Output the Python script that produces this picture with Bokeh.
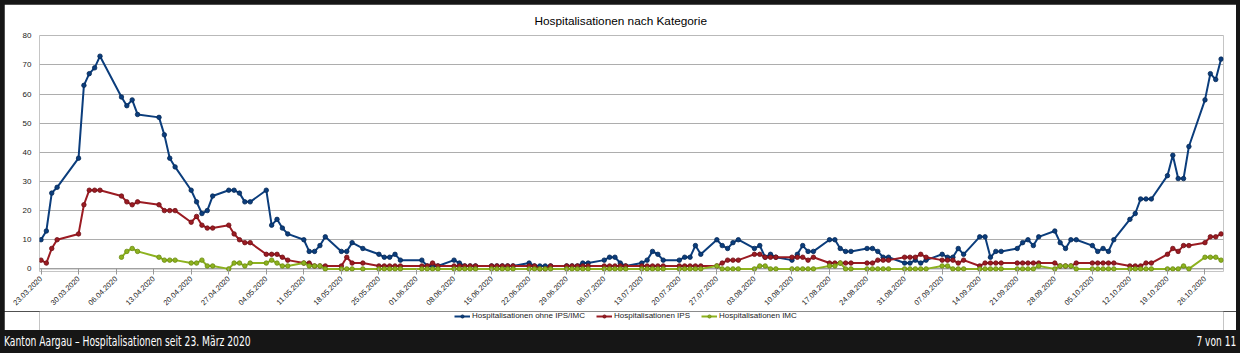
import numpy as np
import pandas as pd
from bokeh.plotting import figure
from bokeh.models import (Range1d, FixedTicker, Legend, LegendItem, Div, Span,
                          DatetimeTickFormatter)
from bokeh.layouts import column
from bokeh.embed import file_html
from bokeh.resources import INLINE

# ---------------- data ----------------
missing_days = ["2020-03-27", "2020-04-06", "2020-04-13", "2020-05-21", "2020-06-01"]
dates = pd.bdate_range("2020-03-23", "2020-10-29").difference(pd.to_datetime(missing_days))

ohne_ips_imc = [
    10, 13, 26, 28,
    38, 63, 67, 69, 73,
    59, 56, 58, 53,
    52, 46, 38, 35,
    27, 23, 19, 20, 25,
    27, 27, 26, 23, 23,
    27, 15, 17, 14, 12,
    10, 6, 6, 8, 11,
    6, 6, 9, 7,
    5, 4, 4, 5, 3,
    3, 1, 1, 1,
    3, 2, 1, 1, 1,
    1, 1, 1, 1, 1,
    2, 1, 1, 1, 1,
    1, 1, 1, 2, 2,
    3, 4, 4, 2, 1,
    2, 3, 6, 5, 3,
    3, 4, 4, 8, 5,
    10, 8, 7, 9, 10,
    7, 8, 4, 5, 4,
    3, 5, 8, 6, 6,
    10, 10, 7, 6, 6,
    7, 7, 6, 4, 4,
    2, 2, 3, 2, 3,
    5, 4, 4, 7, 5,
    11, 11, 4, 6, 6,
    7, 9, 10, 8, 11,
    13, 9, 7, 10, 10,
    8, 6, 7, 6, 10,
    17, 19, 24, 24, 24,
    32, 39, 31, 31, 42,
    58, 67, 65, 72,
]

ips = [
    3, 2, 7, 10,
    12, 22, 27, 27, 27,
    25, 23, 22, 23,
    22, 20, 20, 20,
    16, 18, 15, 14, 14,
    15, 12, 10, 9, 9,
    5, 5, 5, 4, 3,
    2, 2, 1, 1, 1,
    1, 4, 2, 2,
    1, 1, 1, 1, 1,
    1, 1, 2, 1,
    1, 1, 1, 1, 1,
    1, 1, 1, 1, 1,
    1, 1, 0, 0, 1,
    1, 1, 1, 1, 1,
    1, 1, 1, 1, 1,
    1, 1, 1, 1, 1,
    1, 1, 1, 1, 1,
    1, 2, 3, 3, 3,
    5, 5, 4, 4, 4,
    4, 4, 4, 3, 4,
    2, 2, 2, 2, 2,
    2, 2, 3, 3, 3,
    4, 4, 4, 5, 4,
    3, 3, 3, 2, 3,
    1, 2, 2, 2, 2,
    2, 2, 2, 2, 2,
    2, 1, 1, 1, 2,
    2, 2, 2, 2, 2,
    1, 1, 1, 2, 2,
    5, 7, 6, 8, 8,
    9, 11, 11, 12,
]

imc = [np.nan] * 9 + [
    4, 6, 7, 6,
    4, 3, 3, 3,
    2, 2, 3, 1, 1,
    0, 2, 2, 1, 2,
    2, 3, 2, 1, 1,
    2, 1, 1, 1, 0,
    0, 0, 0, 0,
    0, 0, 0, 0, 0,
    0, 0, 0, 0,
    0, 0, 0, 0, 0,
    0, 0, 0, 0, 0,
    0, 0, 0, 0, 0,
    0, 0, 0, 0, 0,
    0, 0, 0, 0, 0,
    0, 0, 0, 0, 0,
    0, 0, 0, 0, 0,
    1, 0, 0, 0, 0,
    0, 1, 1, 0, 0,
    0, 0, 0, 0, 0,
    1, 1, 2, 0, 0,
    0, 0, 0, 0, 0,
    0, 0, 0, 0, 0,
    1, 1, 0, 0, 0,
    0, 0, 0, 0, 0,
    0, 0, 0, 0, 1,
    0, 1, 1, 1, 0,
    0, 0, 0, 0, 0,
    0, 0, 0, 0, 0,
    0, 0, 0, 1, 0,
    4, 4, 4, 3,
]

tick_dates = pd.date_range("2020-03-23", "2020-10-26", freq="7D")
y_ticks = [0, 10, 20, 30, 40, 50, 60, 70, 80]

series_names = ["Hospitalisationen ohne IPS/IMC", "Hospitalisationen IPS", "Hospitalisationen IMC"]
series_colors = ["#0b3d7c", "#9b1b22", "#8db21f"]
edge_colors = ["#062a57", "#6e1016", "#6a8a10"]

title_text = "Hospitalisationen nach Kategorie"
caption_left = "Kanton Aargau \u2013 Hospitalisationen seit 23. M\u00e4rz 2020"
caption_right = "7 von 11"

# ---------------- main figure ----------------
FONT = "Liberation Sans"
day_ms = 86400000.0
x0 = dates[0].value / 1e6 - 0.28 * day_ms
x1 = dates[-1].value / 1e6 + 0.45 * day_ms

p = figure(width=1232, height=307, x_axis_type="datetime",
           x_range=Range1d(x0, x1), y_range=Range1d(-0.9, 80.1),
           output_backend="svg", toolbar_location=None,
           min_border_left=35, min_border_right=13, min_border_top=31,
           min_border_bottom=40)
p.margin = (4, 4, 0, 4)
p.background_fill_color = "white"
p.border_fill_color = "white"
p.outline_line_color = None

p.title.text = title_text
p.title.align = "left"
p.title.offset = 495
p.title.standoff = 15
p.title.text_font = FONT
p.title.text_font_size = "11.8px"
p.title.text_font_style = "normal"
p.title.text_color = "#000000"

p.xgrid.visible = False
p.ygrid.grid_line_color = "#adadad"
p.ygrid.grid_line_width = 1
p.yaxis.ticker = FixedTicker(ticks=y_ticks)
p.yaxis.axis_line_color = None
p.yaxis.major_tick_line_color = None
p.yaxis.minor_tick_line_color = None
p.yaxis.major_label_text_font = FONT
p.yaxis.major_label_text_font_size = "8px"
p.yaxis.major_label_text_color = "#222222"
p.yaxis.major_label_standoff = 2

fmt = "%d.%m.%Y"
p.xaxis.ticker = FixedTicker(ticks=[d.value / 1e6 for d in tick_dates])
p.xaxis.formatter = DatetimeTickFormatter(days=fmt, months=fmt, years=fmt, hours=fmt,
                                          hourmin=fmt, minutes=fmt, minsec=fmt,
                                          seconds=fmt, milliseconds=fmt,
                                          microseconds=fmt)
p.xaxis.axis_line_color = None
p.xaxis.major_tick_line_color = "#999999"
p.xaxis.major_tick_in = 3
p.xaxis.major_tick_out = 3
p.xaxis.minor_tick_line_color = None
p.xaxis.major_label_orientation = np.pi / 4
p.xaxis.major_label_text_font = FONT
p.xaxis.major_label_text_font_size = "7.5px"
p.xaxis.major_label_text_color = "#222222"
p.xaxis.major_label_standoff = 3

p.add_layout(Span(location=0, dimension="width", line_color="#999999", line_width=1,
                  level="underlay"))

series_values = [ohne_ips_imc, ips, imc]
for vals, col, edge in zip(series_values, series_colors, edge_colors):
    vals = np.array(vals, dtype=float)
    p.line(dates, vals, line_color=col, line_width=2)
    p.scatter(dates, vals, size=4.5, fill_color=col, line_color=edge, line_width=0.8)

# ---------------- legend strip (same series, range chosen so only the legend shows) ----------------
lg = figure(width=1232, height=19, x_range=Range1d(x0, x1), y_range=Range1d(-20, -10),
            output_backend="svg", toolbar_location=None, min_border=0,
            x_axis_location=None, y_axis_location=None)
lg.margin = (0, 4, 0, 4)
lg.grid.visible = False
lg.outline_line_color = None
lg.background_fill_color = "white"
lg.border_fill_color = "white"

items = []
for name, vals, col, edge in zip(series_names, series_values, series_colors, edge_colors):
    vals = np.array(vals, dtype=float)
    lr = lg.line(dates, vals, line_color=col, line_width=2)
    sr = lg.scatter(dates, vals, size=4.5, fill_color=col, line_color=edge, line_width=0.8)
    items.append(LegendItem(label=name, renderers=[lr, sr], index=20))

legend = Legend(items=items, orientation="horizontal", location=(415, 10),
                label_text_font=FONT, label_text_font_size="8px", label_text_color="#222222",
                glyph_width=16, glyph_height=8, label_standoff=2, spacing=11,
                padding=0, margin=0, border_line_color=None, background_fill_alpha=0,
                label_height=8)
lg.add_layout(legend)

# ---------------- caption bar ----------------
caption = Div(
    text=('<div style="position:relative;width:1240px;height:23px;color:#ffffff;'
          "font-family:'Liberation Sans Narrow','DejaVu Sans Condensed','Roboto',sans-serif;"
          'font-size:14px;line-height:23px;">'
          '<span style="position:absolute;left:4px;top:0;white-space:nowrap;'
          f'transform:scaleX(0.73);transform-origin:left center;">{caption_left}</span>'
          '<span style="position:absolute;right:4px;top:0;white-space:nowrap;'
          f'transform:scaleX(0.72);transform-origin:right center;">{caption_right}</span></div>'),
    width=1240, height=23, margin=0)

layout = column(p, lg, caption, width=1240, height=353, spacing=0,
                styles={"background-color": "#161616"})

open("out.html", "w").write(file_html(layout, INLINE))
